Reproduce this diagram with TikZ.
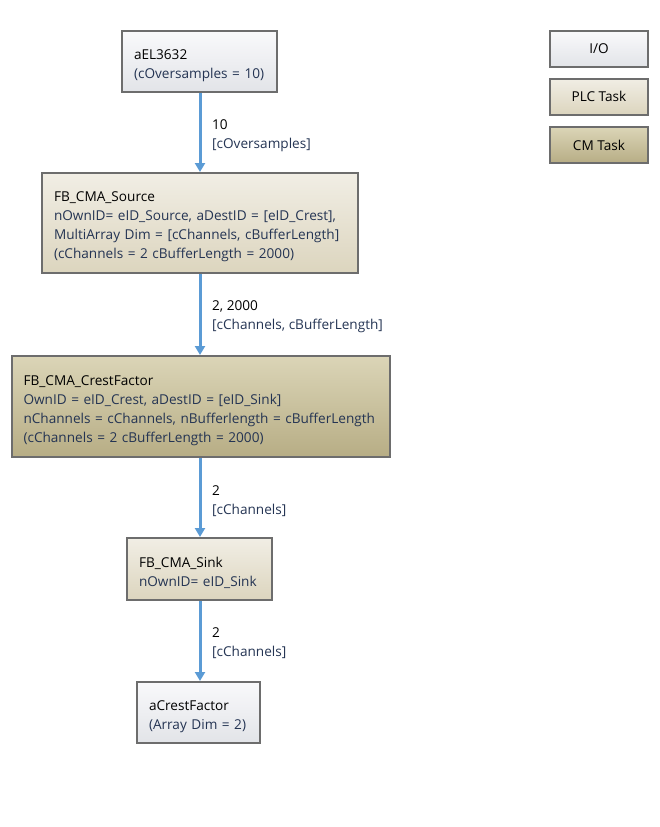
\documentclass[tikz,border=0pt]{standalone}
\usepackage{fontspec}
\setmainfont{Open Sans}
\usetikzlibrary{arrows.meta}
\definecolor{boxline}{HTML}{6D6D6D}
\definecolor{ioTop}{HTML}{F9F9FB}
\definecolor{ioBot}{HTML}{E2E4E8}
\definecolor{plcTop}{HTML}{F1EEE5}
\definecolor{plcBot}{HTML}{DCD5BE}
\definecolor{cmTop}{HTML}{DBD5B7}
\definecolor{cmBot}{HTML}{B7AD85}
\definecolor{flow}{HTML}{5B9BD5}
\definecolor{subtext}{HTML}{243453}
\begin{document}
\begin{tikzpicture}[x=1pt, y=-1pt,
    every node/.style={font=\fontsize{13.6pt}{19pt}\selectfont},
    box/.style={rectangle, draw=boxline, line width=2pt, align=left, inner xsep=12pt, inner ysep=4pt,
        execute at begin node=\rule{0pt}{18pt}},
    iobox/.style={box, top color=ioTop, bottom color=ioBot},
    plcbox/.style={box, top color=plcTop, bottom color=plcBot},
    cmbox/.style={box, top color=cmTop, bottom color=cmBot},
    legend/.style={rectangle, draw=boxline, line width=2pt, align=center, minimum width=98pt, minimum height=36pt},
    arrow/.style={draw=flow, line width=3pt, -{Triangle[width=10pt, length=9pt]}},
    flowlabel/.style={align=left, anchor=west, inner sep=0pt}
]
    \useasboundingbox (0,0) rectangle (660,827);

    % data flow
    \node[iobox, minimum width=155pt, minimum height=61pt, text width=131pt] (el) at (199.5,61.5)
        {aEL3632\\\textcolor{subtext}{(cOversamples = 10)}};
    \node[plcbox, minimum width=316pt, minimum height=100pt, text width=292pt] (source) at (200,223)
        {FB\_CMA\_Source\\
         \textcolor{subtext}{nOwnID= eID\_Source, aDestID = [eID\_Crest],}\\
         \textcolor{subtext}{MultiArray Dim = [cChannels, cBufferLength]}\\
         \textcolor{subtext}{(cChannels = 2 cBufferLength = 2000)}};
    \node[cmbox, minimum width=378pt, minimum height=101pt, text width=354pt] (crest) at (200.5,406.5)
        {FB\_CMA\_CrestFactor\\
         \textcolor{subtext}{OwnID = eID\_Crest, aDestID = [eID\_Sink]}\\
         \textcolor{subtext}{nChannels = cChannels, nBufferlength = cBufferLength}\\
         \textcolor{subtext}{(cChannels = 2 cBufferLength = 2000)}};
    \node[plcbox, minimum width=145pt, minimum height=62pt, text width=121pt] (sink) at (199.5,569)
        {FB\_CMA\_Sink\\\textcolor{subtext}{nOwnID= eID\_Sink}};
    \node[iobox, minimum width=123pt, minimum height=61pt, text width=99pt] (result) at (198.5,712.5)
        {aCrestFactor\\\textcolor{subtext}{(Array Dim = 2)}};

    \draw[arrow] (el.south -| 200,0) -- (source.north -| 200,0);
    \draw[arrow] (source.south -| 200,0) -- (crest.north -| 200,0);
    \draw[arrow] (crest.south -| 200,0) -- (sink.north -| 200,0);
    \draw[arrow] (sink.south -| 200,0) -- (result.north -| 200,0);

    \node[flowlabel] (l1) at (212,136) {10\\\textcolor{subtext}{[cOversamples]}};
    \node[flowlabel] (l2) at (212,317) {2, 2000\\\textcolor{subtext}{[cChannels, cBufferLength]}};
    \node[flowlabel] (l3) at (212,501) {2\\\textcolor{subtext}{[cChannels]}};
    \node[flowlabel] (l4) at (212,643.5) {2\\\textcolor{subtext}{[cChannels]}};

    % legend
    \node[legend, top color=ioTop, bottom color=ioBot] (io) at (599,49) {I/O};
    \node[legend, top color=plcTop, bottom color=plcBot] (plc) at (599,96.5) {PLC Task};
    \node[legend, top color=cmTop, bottom color=cmBot] (cm) at (599,145) {CM Task};
\end{tikzpicture}
\end{document}
